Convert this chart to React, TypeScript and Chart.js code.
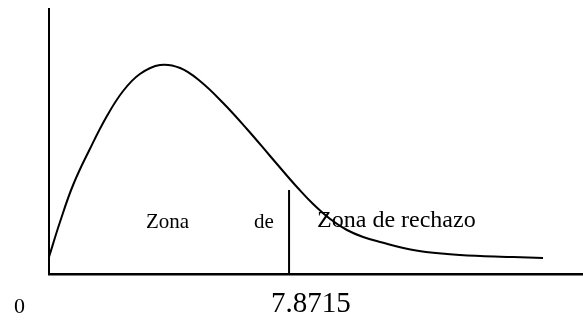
import React, { useEffect, useRef } from "react";
import { Chart, registerables } from "chart.js";

Chart.register(...registerables);

// Curve (x in chart units, y in relative height)
const curveX = [0, 0.36, 0.79, 1.34, 1.9, 2.43, 2.98, 3.64, 4.3, 4.95, 5.71, 6.49, 7.25, 7.84, 8.13, 8.66, 9.22, 9.77, 10.3, 10.86, 11.94, 13.05, 14.14, 15.22, 16.2];
const curveY = [17, 52, 89, 125, 158, 183, 200, 209, 206, 193, 171, 145, 118, 97, 87, 70, 55, 44, 37, 32, 24, 20, 18, 17, 16];

const criticalValue = 7.8715;
const criticalLineTop = 84;
const tickLabels = ["0", "7.8715"];
const zoneLabels = ["Zona", "de", "Zona de rechazo"];

const FONT = '"Liberation Serif", "Times New Roman", serif';

export default function App() {
  const ref = useRef<HTMLCanvasElement | null>(null);

  useEffect(() => {
    const canvas = ref.current;
    if (!canvas) return;

    const textPlugin = {
      id: "textPlugin",
      afterDraw(chart: any) {
        const { ctx } = chart;
        const xs = chart.scales.x;
        const ys = chart.scales.y;
        const items = [
          { t: zoneLabels[0], x: 3.18, y: 46, size: 21 },
          { t: zoneLabels[1], x: 6.72, y: 46, size: 21 },
          { t: zoneLabels[2], x: 8.79, y: 47, size: 24 },
          { t: tickLabels[0], x: -1.15, y: -39, size: 22 },
          { t: tickLabels[1], x: 7.28, y: -38, size: 29 },
        ];
        ctx.save();
        ctx.fillStyle = "#000";
        ctx.textAlign = "left";
        ctx.textBaseline = "alphabetic";
        for (const it of items) {
          ctx.font = `${it.size}px ${FONT}`;
          ctx.fillText(it.t, xs.getPixelForValue(it.x), ys.getPixelForValue(it.y));
        }
        ctx.restore();
      },
    };

    const chart = new Chart(canvas, {
      type: "line",
      data: {
        datasets: [
          {
            data: curveX.map((x, i) => ({ x, y: curveY[i] })),
            borderColor: "#000",
            borderWidth: 2,
            pointRadius: 0,
            tension: 0.4,
            fill: false,
            clip: false as any,
          },
          {
            data: [
              { x: criticalValue, y: 0 },
              { x: criticalValue, y: criticalLineTop },
            ],
            borderColor: "#000",
            borderWidth: 2,
            pointRadius: 0,
            fill: false,
            clip: false as any,
          },
        ],
      },
      options: {
        responsive: false,
        animation: false,
        layout: { padding: { left: 49, top: 9, right: 0, bottom: 46 } },
        plugins: { legend: { display: false }, tooltip: { enabled: false } },
        scales: {
          x: {
            type: "linear",
            min: 0,
            max: 17.51,
            grid: { display: false, drawTicks: false },
            ticks: { display: false },
            border: { display: true, color: "#000", width: 2.5 },
          },
          y: {
            type: "linear",
            min: 0,
            max: 265,
            grid: { display: false, drawTicks: false },
            ticks: { display: false },
            border: { display: true, color: "#000", width: 2 },
          },
        },
      },
      plugins: [textPlugin],
    });

    return () => chart.destroy();
  }, []);

  return (
    <div style={{ position: "absolute", left: 0, top: 0, width: 583, height: 320, background: "#fff" }}>
      <canvas ref={ref} width={583} height={320} style={{ width: 583, height: 320, display: "block" }} />
    </div>
  );
}
